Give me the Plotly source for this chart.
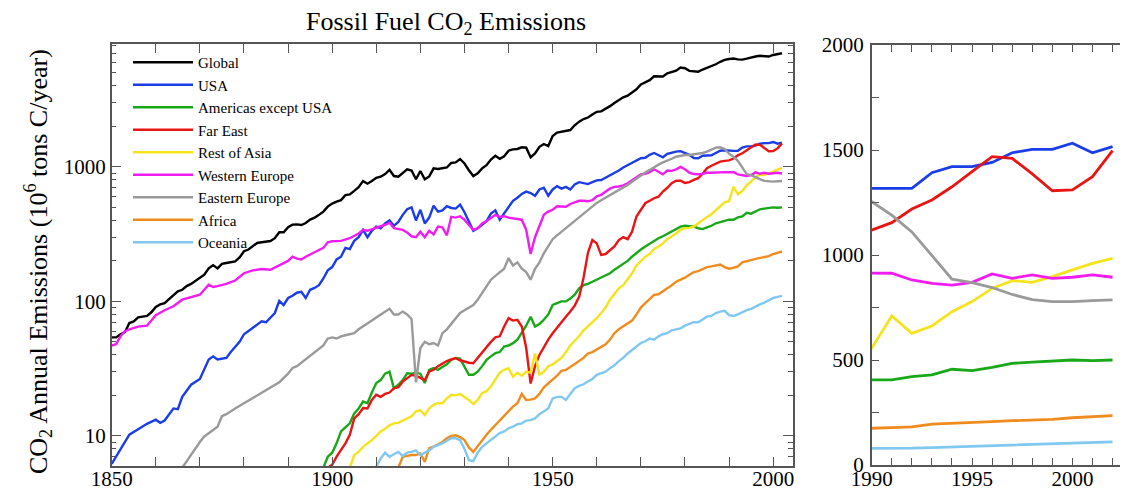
import plotly.graph_objects as go

# ---------------- data (10^6 tons C / year) ----------------
RIGHT_YEARS = list(range(1990, 2003))

global_years = list(range(1850, 2003))
global_vals = [54, 54, 57, 59, 69, 71, 76, 77, 78, 83, 91, 95, 97, 104, 112, 119, 122, 130, 135, 142,
               150, 158, 176, 186, 176, 190, 193, 196, 198, 212, 236, 243, 256, 272, 275, 277, 281, 295, 327, 327,
               356, 372, 374, 370, 383, 406, 419, 440, 465, 507, 534, 552, 566, 617, 624, 663, 707, 784, 750, 785,
               830, 846, 885, 950, 855, 845, 905, 960, 940, 810, 932, 810, 850, 975, 965, 980, 990, 1070, 1080, 1145,
               1060, 945, 855, 895, 975, 1030, 1135, 1210, 1150, 1200, 1320, 1350, 1360, 1400, 1390, 1180, 1260, 1410, 1480, 1430,
               1700, 1800, 1830, 1870, 1880, 2040, 2170, 2270, 2330, 2450, 2570, 2590, 2690, 2830, 2990, 3130, 3290, 3390, 3570, 3780,
               4100, 4250, 4420, 4720, 4730, 4700, 4960, 5100, 5200, 5480, 5420, 5180, 5120, 5110, 5300, 5460, 5640, 5800, 6050, 6250,
               6350, 6400, 6300, 6280, 6380, 6520, 6620, 6700, 6660, 6620, 6800, 6880, 7000]

usa_years = [1850, 1852, 1854, 1856, 1858, 1860, 1861, 1862, 1864, 1865, 1866, 1868, 1870, 1872, 1873, 1874, 1876, 1877,
             1879, 1880, 1882, 1884, 1885, 1886, 1887, 1888, 1889] + list(range(1890, 1990)) + RIGHT_YEARS
usa_vals = [6.2, 8.0, 10.2, 11.2, 12.3, 13.2, 12.5, 13.0, 16.0, 15.8, 19.5, 24, 26.5, 37, 39, 37, 38, 42,
            50, 57, 64, 71, 70, 76, 82, 101, 94,
            106, 110, 116, 118, 106, 122, 126, 132, 148, 170,
            180, 205, 215, 250, 245, 282, 300, 340, 300, 335,
            360, 350, 380, 400, 365, 390, 440, 485, 500, 400,
            480, 380, 420, 515, 465, 475, 510, 495, 490, 525,
            460, 390, 335, 350, 375, 395, 450, 475, 405, 450,
            510, 560, 590, 630, 655, 640, 610, 680, 700, 610,
            680, 720, 690, 710, 680, 740, 770, 760, 745, 770,
            795, 800, 830, 870, 905, 940, 990, 1030, 1080, 1130,
            1160, 1170, 1230, 1270, 1225, 1180, 1250, 1280, 1300, 1310,
            1270, 1230, 1165, 1160, 1210, 1220, 1220, 1270, 1320, 1330,
            1317, 1317, 1317, 1392, 1421, 1421, 1441, 1487, 1503, 1503, 1532, 1487, 1516]

amer_years = list(range(1898, 1990)) + RIGHT_YEARS
amer_vals = [5.8, 7.0,
             7.5, 8.8, 10.8, 11.5, 12.4, 14.7, 16, 18, 17.5, 21,
             24.7, 26, 29, 30, 22.5, 24, 26, 29.2, 29, 29.5,
             29, 24.7, 31, 32, 31, 32.5, 34, 36.7, 38, 37.5,
             33, 28.5, 28.5, 30, 33, 36.7, 39, 41.2, 42, 46.2,
             47, 48.9, 52, 58, 66, 77, 65, 68, 73, 80,
             94, 97, 100, 100, 105, 112, 125, 132, 135, 140,
             145, 150, 156, 162, 172, 181, 190, 200, 215, 230,
             243, 256, 268, 283, 295, 305, 318, 330, 345, 360,
             365, 362, 360, 350, 345, 355, 365, 381, 390, 395,
             405, 405, 421, 429, 456, 449, 465, 484, 490, 495, 500, 497, 500]

fareast_years = list(range(1899, 1990)) + RIGHT_YEARS
fareast_vals = [5.8,
                6.1, 7.0, 7.8, 8.8, 10.2, 13.5, 14.5, 16.1, 16, 18.5,
                20.2, 19.5, 20.5, 21, 22.6, 23, 25.3, 27, 28.4, 28,
                27, 26, 30, 31, 33, 34.7, 36, 37, 37.8, 36.5,
                35.7, 35, 34.7, 38, 42.4, 46, 50, 54, 55, 65,
                75, 72, 73, 65, 45, 24.5, 33, 40, 46, 52,
                58, 64, 70, 77, 84, 93, 108, 150, 230, 286,
                270, 222, 225, 240, 256, 286, 300, 290, 330, 428,
                480, 537, 560, 585, 600, 656, 700, 756, 790, 790,
                760, 770, 800, 824, 890, 977, 1020, 1060, 1096, 1110,
                1119, 1154, 1219, 1262, 1325, 1397, 1468, 1460, 1386, 1306, 1310, 1373, 1497]

asia_years = list(range(1904, 1990)) + RIGHT_YEARS
asia_vals = [5.8, 7.2, 7.6, 8.3, 8.8, 9.3,
             10, 10.8, 11.3, 12, 12.4, 12.5, 13, 13.5, 14, 15.2,
             15.5, 14.3, 16, 17, 17.5, 17.5, 19, 20.2, 20, 20.5,
             19.5, 18.5, 17.2, 18.5, 20.8, 21.5, 23.3, 26, 29.5, 31,
             31.8, 27.5, 29.5, 28, 30, 29.5, 41, 28.5, 30, 33,
             34, 36, 38, 42, 47, 51, 55, 61, 65, 70,
             75, 82, 90, 103, 113, 125, 132, 145, 162, 185,
             200, 215, 225, 245, 256, 270, 290, 303, 320, 340,
             350, 352, 360, 380, 403, 425, 445, 479, 510, 545,
             556, 710, 627, 662, 730, 778, 841, 878, 870, 897, 929, 960, 984]

weur_years = [1850, 1851, 1852, 1853, 1854, 1856, 1858, 1860, 1862, 1864, 1866, 1868, 1870, 1872, 1873, 1874,
              1876, 1878, 1880, 1882, 1884, 1886, 1888, 1890, 1891, 1892, 1893, 1894, 1896, 1898, 1899,
              1900, 1902, 1904, 1906, 1907, 1908] + list(range(1910, 1990)) + RIGHT_YEARS
weur_vals = [47, 48, 55, 60, 62, 65, 66, 79, 86, 92, 103, 108, 112, 133, 128, 130,
             135, 143, 162, 170, 174, 172, 185, 200, 215, 208, 205, 215, 232, 250, 275,
             280, 282, 295, 320, 340, 335,
             355, 362, 370, 385, 350, 345, 340, 325, 305, 300,
             330, 300, 335, 315, 360, 355, 310, 425, 420, 430,
             405, 370, 340, 350, 380, 395, 420, 440, 425, 430,
             420, 415, 410, 405, 340, 225, 300, 370, 440, 465,
             480, 510, 505, 505, 530, 545, 560, 560, 555, 565,
             605, 620, 655, 690, 710, 715, 730, 755, 795, 840,
             880, 890, 915, 960, 925, 880, 940, 935, 960, 1000,
             960, 905, 885, 880, 890, 905, 905, 910, 905, 915,
             913, 913, 881, 865, 857, 870, 910, 889, 905, 889, 894, 905, 894]

eeur_years = [1866, 1868, 1870, 1871, 1872, 1874, 1875, 1876, 1878, 1880, 1882, 1884, 1886, 1888,
              1890, 1891, 1892, 1894, 1896, 1898, 1899] + list(range(1900, 1990)) + RIGHT_YEARS
eeur_vals = [5.8, 7.3, 9.0, 9.9, 10.5, 11.7, 14, 14.5, 16, 17.5, 19, 21, 23, 25,
             29, 32, 33, 37, 42, 47, 53,
             54, 53, 55, 56, 57, 58, 62, 65, 68, 72,
             76, 80, 84, 88, 80, 80, 84, 80, 74, 25,
             45, 50, 48, 49, 47, 58, 62, 68, 75, 82,
             86, 90, 94, 103, 115, 128, 145, 155, 165, 175,
             210, 185, 195, 175, 165, 145, 175, 195, 228, 255,
             290, 310, 330, 350, 375, 395, 420, 450, 480, 510,
             540, 565, 590, 620, 650, 675, 700, 735, 775, 820,
             870, 910, 950, 1000, 1040, 1080, 1110, 1150, 1190, 1210,
             1225, 1225, 1235, 1250, 1270, 1300, 1340, 1390, 1400, 1360,
             1254, 1190, 1110, 1000, 885, 868, 845, 812, 788, 778, 778, 783, 786]

africa_years = list(range(1915, 1990)) + RIGHT_YEARS
africa_vals = [5.8, 7.0, 7.1, 7.2, 7.2,
               7.4, 6.4, 8.1, 8.3, 8.6, 9.0, 9.6, 10, 10.1, 9.8,
               9.3, 8.2, 7.6, 8.4, 9.3, 10.2, 11.1, 12, 13.2, 14.2,
               15.2, 16.5, 17.5, 20.5, 18.5, 18.6, 19, 20.5, 23, 24.6,
               26, 28, 30.5, 31, 32.5, 34, 36, 38, 41, 42,
               44, 46, 48, 52, 58, 62, 65, 68, 72, 80,
               90, 97, 104, 112, 113, 118, 125, 132, 140, 145,
               150, 158, 165, 168, 175, 180, 182, 185, 188, 180,
               175, 178, 182, 195, 198, 203, 207, 211, 214, 217, 225, 230, 235]

oceania_years = list(range(1910, 1990)) + RIGHT_YEARS
oceania_vals = [5.9, 6.8, 7.5, 7.0, 7.3, 7.6, 7.1, 7.5, 7.6, 7.8,
                7.2, 7.5, 7.8, 8.3, 8.5, 8.8, 9.2, 9.6, 9.6, 9.3,
                8.0, 6.6, 6.5, 7.5, 8.3, 8.8, 9.3, 9.8, 10.5, 10.8,
                11.4, 11.7, 12.2, 12.4, 13, 13.1, 13.5, 14.5, 15.2, 16,
                19, 19.5, 19.5, 18.5, 20.5, 22.6, 23.5, 24.2, 25.4, 26.5,
                28.4, 29, 30, 31.9, 33.5, 36, 38, 41, 43.6, 46,
                49, 50.5, 53, 52, 55, 57, 58, 61, 62, 63,
                66, 68, 70, 70, 74, 77, 78, 82, 84, 85,
                79, 78, 80, 83, 86, 88, 92, 95, 98, 102, 106, 108, 110]

series_names = ["Global", "USA", "Americas except USA", "Far East", "Rest of Asia",
                "Western Europe", "Eastern Europe", "Africa", "Oceania"]
series_years = [global_years, usa_years, amer_years, fareast_years, asia_years,
                weur_years, eeur_years, africa_years, oceania_years]
series_vals = [global_vals, usa_vals, amer_vals, fareast_vals, asia_vals,
               weur_vals, eeur_vals, africa_vals, oceania_vals]
series_colors = ["#000000", "#1a3de8", "#18a818", "#e81515", "#f5e31c",
                 "#f01cf0", "#9a9a9a", "#f08c1e", "#80c8f0"]

left_xticks = list(range(1850, 2001, 10))
left_xlabels = [str(y) if y % 50 == 0 else "" for y in left_xticks]
left_yticks = [10, 100, 1000]
right_xticks = list(range(1990, 2003))
right_xlabels = [str(y) if y % 5 == 0 else "" for y in right_xticks]
right_yticks = list(range(0, 2001, 250))
right_ylabels = [str(v) if v % 500 == 0 else "" for v in right_yticks]

# ---------------- figure ----------------
# the page body has an 8px margin, so the figure is 8px smaller than the window
W, H = 1120, 488
OFF = 8
FONT = "Liberation Serif, Times New Roman, serif"
AX = "#555555"


def px(x):
    return (x - OFF) / W


def py(y):
    return (H - (y - OFF)) / H


fig = go.Figure()
for name, yrs, vals, col in zip(series_names, series_years, series_vals, series_colors):
    fig.add_trace(go.Scatter(x=yrs, y=vals, mode="lines", name=name, legendgroup=name,
                             line=dict(color=col, width=2.4), xaxis="x", yaxis="y"))
for name, yrs, vals, col in zip(series_names, series_years, series_vals, series_colors):
    fig.add_trace(go.Scatter(x=yrs, y=vals, mode="lines", name=name, legendgroup=name,
                             showlegend=False, line=dict(color=col, width=2.8),
                             xaxis="x2", yaxis="y2"))

common = dict(showgrid=False, zeroline=False, showline=True, linecolor=AX, linewidth=1.5,
              ticks="inside", tickcolor=AX, tickwidth=1.2, mirror="ticks", automargin=False,
              tickfont=dict(family=FONT, size=21, color="black"))

minor_vals = [m * 10 ** k for k in range(0, 4) for m in range(2, 10)]

fig.update_layout(
    width=W, height=H,
    margin=dict(l=0, r=0, t=0, b=0),
    paper_bgcolor="white", plot_bgcolor="white",
    font=dict(family=FONT, color="black"),
    xaxis=dict(domain=[px(111.7), px(793)], range=[1850, 2004.5], anchor="y",
               tickmode="array", tickvals=left_xticks, ticktext=left_xlabels, ticklen=9,
               ticklabelstandoff=-7, **common),
    yaxis=dict(domain=[py(466), py(44)], type="log", range=[0.776, 3.914], anchor="x",
               tickmode="array", tickvals=left_yticks, ticktext=[str(v) for v in left_yticks],
               ticklen=10, ticklabelstandoff=0,
               minor=dict(tickmode="array", tickvals=minor_vals, ticks="inside", ticklen=5,
                          tickcolor=AX, tickwidth=1.1, showgrid=False),
               **common),
    xaxis2=dict(domain=[px(871.7), 1.0], range=[1990, 2002.77], anchor="y2",
                tickmode="array", tickvals=right_xticks, ticktext=right_xlabels, ticklen=7,
                ticklabelstandoff=-6, **common),
    yaxis2=dict(domain=[py(465), py(45)], range=[0, 2000], anchor="x2",
                tickmode="array", tickvals=right_yticks, ticktext=right_ylabels, ticklen=8,
                ticklabelstandoff=2, **common),
    legend=dict(x=px(128), y=py(46), xanchor="left", yanchor="top",
                bgcolor="rgba(0,0,0,0)", borderwidth=0, itemwidth=60,
                font=dict(family=FONT, size=15, color="black"), tracegroupgap=0),
    annotations=[
        dict(text="Fossil Fuel CO<sub>2</sub> Emissions", x=px(446), y=py(23),
             xref="paper", yref="paper", xanchor="center", yanchor="middle", showarrow=False,
             borderpad=0, font=dict(family=FONT, size=26, color="black")),
        dict(text="CO<sub>2</sub> Annual Emissions (10<sup>6</sup> tons C/year)", x=px(38), y=py(262),
             xref="paper", yref="paper", xanchor="center", yanchor="middle", showarrow=False,
             textangle=-90, font=dict(family=FONT, size=26, color="black")),
    ],
)

fig.write_html("out.html")
